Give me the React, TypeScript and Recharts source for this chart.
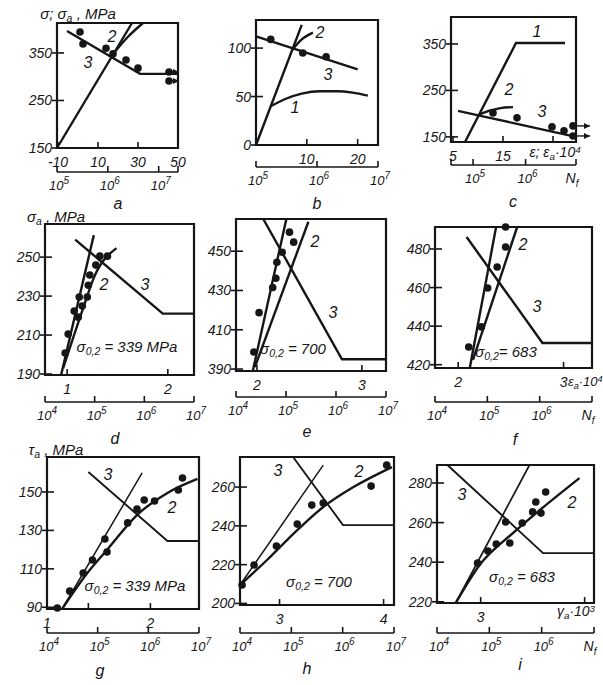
import React from 'react'
import { ComposedChart, Line, Scatter, XAxis, YAxis, ReferenceArea } from 'recharts'

const FONT = '"Liberation Sans", Arial, sans-serif'
const INK = '#161616'

type Pt = { x: number; y: number }
const pts = (a: number[][]): Pt[] => a.map(([x, y]) => ({ x, y }))

// a: sigma vs strain*1e4, log Nf below
const aLine1 = pts([[-10.5, 150], [27, 413]])
const aCurve2 = pts([[18, 350], [25, 384], [32.5, 413]])
const aLine3 = pts([[-5.5, 396], [31, 306], [50, 306]])
const aPoints = pts([[1, 394], [2.5, 369], [14, 360], [17.5, 348], [24, 335], [30, 318]])
const aRunouts = pts([[45.5, 310], [45.5, 291]])

// b
const bLine1 = pts([[0, 0], [9, 124]])
const bCurve1 = pts([[2.9, 40], [6, 48], [9, 53], [12.6, 55.5], [16, 55.5], [19, 54], [22, 51]])
const bCurve2 = pts([[7.1, 98], [9, 109], [11.2, 116]])
const bLine3 = pts([[0, 112], [20, 78]])
const bPoints = pts([[2.9, 109], [9.2, 95], [13.8, 91]])

// c
const cLine1 = pts([[7.4, 139], [17.6, 352], [27.4, 352]])
const cCurve2 = pts([[10.4, 199], [12.5, 207], [14.5, 212], [17, 214]])
const cLine3 = pts([[6, 206], [17.8, 178], [29.6, 150]])
const cPoints = pts([[13, 201.6], [17.8, 191], [24.8, 171.5], [27.2, 163]])
const cRunouts = pts([[29, 173.6], [29, 152]])

// d
const dLine1 = pts([[0.94, 189.5], [1.265, 261.3]])
const dCurve2 = pts([[0.96, 193], [1.16, 224], [1.27, 240], [1.49, 254.6]])
const dLine3 = pts([[1.08, 259], [1.95, 221], [2.26, 221]])
const dPoints = pts([[0.98, 200.8], [1.01, 210.5], [1.07, 222.3], [1.11, 219.2], [1.12, 229.5], [1.15, 224.9],
  [1.2, 229.5], [1.21, 235.6], [1.225, 240.8], [1.285, 245.9], [1.325, 250.5], [1.4, 250.5]])

// e
const eLine1 = pts([[1.96, 389], [2.28, 466.4]])
const eCurve2 = pts([[1.98, 391], [2.49, 465]])
const eLine3 = pts([[2.06, 466.4], [2.81, 395], [3.23, 395]])
const ePoints = pts([[1.97, 398.7], [2.02, 418.7], [2.15, 431.5], [2.18, 436.2], [2.19, 444.4], [2.24, 449.5],
  [2.35, 454.6], [2.31, 459.7]])

// f
const fLine1 = pts([[2.11, 418.3], [2.36, 491.4]])
const fCurve2 = pts([[2.14, 422.5], [2.56, 491.4]])
const fLine3 = pts([[2.08, 486.2], [2.8, 431.3], [3.27, 431.3]])
const fPoints = pts([[2.1, 429.2], [2.22, 439.6], [2.28, 459.8], [2.37, 470.7], [2.45, 481], [2.45, 491.4]])

// g: tau vs gamma
const gLine1 = pts([[1.146, 89.1], [1.92, 159.9]])
const gCurve2 = pts([[1.146, 89.1], [1.39, 107.8], [1.58, 119.8], [1.87, 138], [2.165, 149.5], [2.455, 156.8]])
const gLine3 = pts([[1.4, 160.4], [2.165, 124.5], [2.47, 124.5]])
const gPoints = pts([[1.1, 89.6], [1.22, 98.4], [1.35, 107.8], [1.44, 114.6], [1.56, 125.5], [1.58, 118.8],
  [1.78, 133.9], [1.87, 141.1], [1.94, 145.8], [2.04, 145.3], [2.27, 151], [2.31, 157.3]])

// h
const hLine1 = pts([[2.62, 209.5], [3.42, 271.3]])
const hCurve2 = pts([[2.62, 209.5], [2.88, 222.4], [3.17, 237.8], [3.42, 249.7], [3.71, 260], [4.08, 270.3]])
const hLine3 = pts([[3.13, 275.5], [3.61, 240.4], [4.1, 240.4]])
const hPoints = pts([[2.64, 209.5], [2.755, 219.8], [2.97, 229.6], [3.17, 240.9], [3.31, 250.7], [3.42, 251.8],
  [3.88, 260.5], [4.03, 271.3]])

// i
const iLine1 = pts([[2.76, 219.4], [3.47, 289.1]])
const iCurve2 = pts([[2.76, 219.4], [2.99, 238.6], [3.31, 254.7], [3.57, 266.4], [3.95, 282.5]])
const iLine3 = pts([[2.68, 289.1], [3.6, 244.6], [4.09, 244.6]])
const iPoints = pts([[2.97, 239.6], [3.07, 245.7], [3.15, 249.2], [3.24, 260.3], [3.28, 249.7], [3.4, 259.8],
  [3.5, 265.4], [3.53, 270.4], [3.58, 264.8], [3.625, 275.5]])

const yTicksA = [150, 250, 350]
const yTicksB = [0, 50, 100]
const yTicksD = [190, 210, 230, 250]
const yTicksE = [390, 410, 430, 450]
const yTicksF = [420, 440, 460, 480]
const yTicksG = [90, 110, 130, 150]
const yTicksH = [200, 220, 240, 260]
const yTicksI = [220, 240, 260, 280]

const logFull = [4, 5, 6, 7]
const logExp = ['4', '5', '6', '7']
const logExpNf = ['4', '5', '6', 'N']

function YTick(p: any) {
  return (
    <g>
      <line x1={p.x - 5} x2={p.x + 7} y1={p.y} y2={p.y} stroke={INK} strokeWidth={1.6} />
      <text x={p.x - 5} y={p.y + 5} textAnchor="end" fontSize={14} fontStyle="italic" fontFamily={FONT} fill={INK}>
        {p.payload.value}
      </text>
    </g>
  )
}

const strainTick = (labels: string[]) => (p: any) => (
  <g>
    <line x1={p.x} x2={p.x} y1={p.y} y2={p.y - 6} stroke={INK} strokeWidth={1.6} />
    <text x={p.x} y={p.y + 19} textAnchor="middle" fontSize={14} fontStyle="italic" fontFamily={FONT} fill={INK}>
      {labels[p.index]}
    </text>
  </g>
)

const logTick = (labels: (string | null)[]) => (p: any) => {
  const lab = labels[p.index]
  return (
    <g>
      <line x1={p.x} x2={p.x} y1={p.y} y2={p.y - 6} stroke={INK} strokeWidth={1.6} />
      {lab === 'N' ? (
        <text x={p.x - 4} y={p.y + 18} textAnchor="middle" fontSize={14} fontStyle="italic" fontFamily={FONT} fill={INK}>
          <tspan>N</tspan><tspan dy={4} fontSize={10}>f</tspan>
        </text>
      ) : lab ? (
        <text x={p.x + 2} y={p.y + 18} textAnchor="middle" fontSize={13} fontStyle="italic" fontFamily={FONT} fill={INK}>
          <tspan>10</tspan><tspan dy={-6} fontSize={10}>{lab}</tspan>
        </text>
      ) : null}
    </g>
  )
}

const Dot = (p: any) => <circle cx={p.cx} cy={p.cy} r={3.8} fill={INK} />
const runout = (len: number) => (p: any) => (
  <g>
    <circle cx={p.cx} cy={p.cy} r={3.8} fill={INK} />
    <line x1={p.cx} x2={p.cx + len} y1={p.cy} y2={p.cy} stroke={INK} strokeWidth={1.4} />
    <path d={`M${p.cx + len},${p.cy} l-6,-3 l0,6 z`} fill={INK} />
  </g>
)

type Series = { data: Pt[]; w?: number; curve?: boolean }

function Panel(props: {
  box: number[]; xd: number[]; xt: number[]; xl: string[]; yd: number[]; yt: number[]
  ld: number[]; lt: number[]; ll: (string | null)[]; series: Series[]; points: Pt[]; runouts?: Pt[]; arrow?: number
}) {
  const [L, T, W, H, gap] = props.box
  const ml = 40, mt = 6, mr = 22, lh = 28
  // invisible helper so the log-N axis has a series bound to it
  const logSpan = [{ x: props.ld[0], y: props.yd[0] }, { x: props.ld[1], y: props.yd[0] }]
  return (
    <div style={{ position: 'absolute', left: L - ml, top: T - mt }}>
      <ComposedChart width={ml + W + mr} height={mt + H + gap + lh} margin={{ top: mt, right: mr, left: 0, bottom: 0 }}>
        <XAxis xAxisId="z" dataKey="x" type="number" domain={props.ld} ticks={props.lt} allowDataOverflow interval={0}
          height={lh} tickSize={0} tickMargin={0} tickLine={false} axisLine={{ stroke: INK, strokeWidth: 1.7 }}
          tick={logTick(props.ll)} />
        <XAxis xAxisId="a" dataKey="x" type="number" domain={props.xd} ticks={props.xt} interval={0}
          tickSize={0} tickMargin={0} axisLine={false} tickLine={false} height={gap} tick={strainTick(props.xl)} />
        <YAxis dataKey="y" type="number" domain={props.yd} ticks={props.yt} width={ml} interval={0}
          tickSize={0} tickMargin={0} axisLine={false} tickLine={false} tick={YTick} />
        <ReferenceArea xAxisId="a" x1={props.xd[0]} x2={props.xd[1]} y1={props.yd[0]} y2={props.yd[1]}
          fill="none" fillOpacity={0} stroke={INK} strokeWidth={2.2} />
        <Line xAxisId="z" data={logSpan} dataKey="y" stroke="none" dot={false} isAnimationActive={false} />
        {props.series.map((s, k) => (
          <Line key={k} xAxisId="a" data={s.data} dataKey="y" type={s.curve ? 'monotone' : 'linear'}
            stroke={INK} strokeWidth={s.w ?? 2.4} dot={false} isAnimationActive={false} />
        ))}
        <Scatter xAxisId="a" data={props.points} dataKey="y" shape={Dot} isAnimationActive={false} />
        {props.runouts && (
          <Scatter xAxisId="a" data={props.runouts} dataKey="y" shape={runout(props.arrow ?? 10)} isAnimationActive={false} />
        )}
      </ComposedChart>
    </div>
  )
}

function Txt({ at, size = 15, left, children }: { at: number[]; size?: number; left?: boolean; children: React.ReactNode }) {
  return (
    <div style={{
      position: 'absolute', left: at[0], top: at[1], transform: left ? 'translate(0,-50%)' : 'translate(-50%,-50%)',
      fontFamily: FONT, fontStyle: 'italic', fontSize: size, color: INK, whiteSpace: 'nowrap', lineHeight: 1,
    }}>{children}</div>
  )
}

const sub = (s: string) => <sub style={{ fontSize: '0.7em', verticalAlign: '-0.25em' }}>{s}</sub>
const sup = (s: string) => <sup style={{ fontSize: '0.7em', verticalAlign: '0.45em' }}>{s}</sup>

export default function App() {
  return (
    <div style={{ position: 'absolute', left: 0, top: 0, width: 603, height: 685, overflow: 'hidden', background: '#fff' }}>
      <Panel box={[57, 23, 121, 125, 24]} xd={[-10.5, 50]} xt={[-10, 10, 30, 50]} xl={['-10', '10', '30', '50']}
        yd={[150, 413]} yt={yTicksA} ld={[5, 7.38]} lt={[5, 6, 7, 7.38]} ll={['5', '6', '7', null]}
        series={[{ data: aLine1 }, { data: aCurve2, curve: true }, { data: aLine3 }]} points={aPoints} runouts={aRunouts} arrow={10} />
      <Panel box={[256, 20, 122, 125, 22]} xd={[0, 24]} xt={[10, 20]} xl={['10', '20']}
        yd={[0, 129]} yt={yTicksB} ld={[5, 7]} lt={[5, 6, 7]} ll={['5', '6', '7']}
        series={[{ data: bLine1 }, { data: bCurve1, curve: true }, { data: bCurve2, curve: true }, { data: bLine3 }]} points={bPoints} />
      <Panel box={[451, 17, 125, 125, 23]} xd={[4.6, 29.6]} xt={[5, 15, 25]} xl={['5', '15', '']}
        yd={[139, 408]} yt={yTicksA} ld={[4.58, 6.96]} lt={[4.58, 5, 6, 6.96]} ll={[null, '5', '6', 'N']}
        series={[{ data: cLine1 }, { data: cCurve2, curve: true }, { data: cLine3, curve: true }]} points={cPoints} runouts={cRunouts} arrow={17} />

      <Panel box={[45, 224, 149, 151, 27]} xd={[0.78, 2.26]} xt={[1, 2]} xl={['1', '2']}
        yd={[189.5, 267]} yt={yTicksD} ld={[4, 7]} lt={logFull} ll={logExp}
        series={[{ data: dLine1 }, { data: dCurve2, curve: true }, { data: dLine3 }]} points={dPoints} />
      <Panel box={[236, 219, 150, 152, 26]} xd={[1.8, 3.23]} xt={[2, 3]} xl={['2', '3']}
        yd={[389, 466.4]} yt={yTicksE} ld={[4, 7]} lt={logFull} ll={logExp}
        series={[{ data: eLine1 }, { data: eCurve2 }, { data: eLine3 }]} points={ePoints} />
      <Panel box={[435, 227, 157, 141, 34]} xd={[1.78, 3.27]} xt={[2, 3]} xl={['2', '3']}
        yd={[418.3, 491.4]} yt={yTicksF} ld={[4, 7]} lt={logFull} ll={logExpNf}
        series={[{ data: fLine1 }, { data: fCurve2 }, { data: fLine3 }]} points={fPoints} />

      <Panel box={[47, 457, 152, 152, 24]} xd={[1, 2.47]} xt={[1, 1.4, 2]} xl={['1', '', '2']}
        yd={[89.1, 168.2]} yt={yTicksG} ld={[4, 7]} lt={logFull} ll={logExp}
        series={[{ data: gLine1, w: 1.5 }, { data: gCurve2, curve: true }, { data: gLine3, w: 1.9 }]} points={gPoints} />
      <Panel box={[240, 457, 154, 148, 28]} xd={[2.62, 4.1]} xt={[3, 4]} xl={['3', '4']}
        yd={[199.2, 275.5]} yt={yTicksH} ld={[4, 7]} lt={logFull} ll={logExp}
        series={[{ data: hLine1, w: 1.5 }, { data: hCurve2, curve: true }, { data: hLine3, w: 1.9 }]} points={hPoints} />
      <Panel box={[437, 465, 157, 138, 30]} xd={[2.58, 4.09]} xt={[3, 4]} xl={['3', '']}
        yd={[219.4, 289.1]} yt={yTicksI} ld={[4, 7]} lt={logFull} ll={logExpNf}
        series={[{ data: iLine1, w: 1.7 }, { data: iCurve2, curve: true }, { data: iLine3, w: 1.9 }]} points={iPoints} />

      <Txt at={[78, 15]}>σ; σ{sub('a')} , MPa</Txt>
      <Txt at={[56, 218]}>σ{sub('a')} , MPa</Txt>
      <Txt at={[56, 451]}>τ{sub('a')} , MPa</Txt>

      <Txt at={[555, 153]} size={14}>ε; ε{sub('a')}·10{sup('4')}</Txt>
      <Txt at={[568, 383]} size={13} left>ε{sub('a')}·10{sup('4')}</Txt>
      <Txt at={[576, 612]} size={14}>γ{sub('a')}·10{sup('3')}</Txt>

      <Txt at={[127, 348]}>σ{sub('0,2')} = 339 MPa</Txt>
      <Txt at={[293, 350]}>σ{sub('0,2')} = 700</Txt>
      <Txt at={[506, 353]}>σ{sub('0,2')}= 683</Txt>
      <Txt at={[135, 587]}>σ{sub('0,2')} = 339 MPa</Txt>
      <Txt at={[319, 583]}>σ{sub('0,2')} = 700</Txt>
      <Txt at={[522, 578]}>σ{sub('0,2')} = 683</Txt>

      <Txt at={[112, 37]} size={16}>2</Txt>
      <Txt at={[88, 63]} size={16}>3</Txt>
      <Txt at={[320, 33]} size={16}>2</Txt>
      <Txt at={[328, 75]} size={16}>3</Txt>
      <Txt at={[295, 108]} size={16}>1</Txt>
      <Txt at={[537, 32]} size={16}>1</Txt>
      <Txt at={[509, 90]} size={16}>2</Txt>
      <Txt at={[542, 112]} size={16}>3</Txt>
      <Txt at={[104, 285]} size={16}>2</Txt>
      <Txt at={[145, 285]} size={16}>3</Txt>
      <Txt at={[315, 242]} size={16}>2</Txt>
      <Txt at={[333, 313]} size={16}>3</Txt>
      <Txt at={[523, 245]} size={16}>2</Txt>
      <Txt at={[537, 307]} size={16}>3</Txt>
      <Txt at={[108, 475]} size={16}>3</Txt>
      <Txt at={[172, 508]} size={16}>2</Txt>
      <Txt at={[278, 471]} size={16}>3</Txt>
      <Txt at={[359, 472]} size={16}>2</Txt>
      <Txt at={[462, 495]} size={16}>3</Txt>
      <Txt at={[572, 503]} size={16}>2</Txt>

      <Txt at={[118, 204]} size={16}>a</Txt>
      <Txt at={[317, 204]} size={16}>b</Txt>
      <Txt at={[513, 202]} size={16}>c</Txt>
      <Txt at={[115, 439]} size={16}>d</Txt>
      <Txt at={[307, 432]} size={16}>e</Txt>
      <Txt at={[515, 440]} size={16}>f</Txt>
      <Txt at={[100, 671]} size={16}>g</Txt>
      <Txt at={[307, 669]} size={16}>h</Txt>
      <Txt at={[520, 665]} size={16}>i</Txt>
    </div>
  )
}
